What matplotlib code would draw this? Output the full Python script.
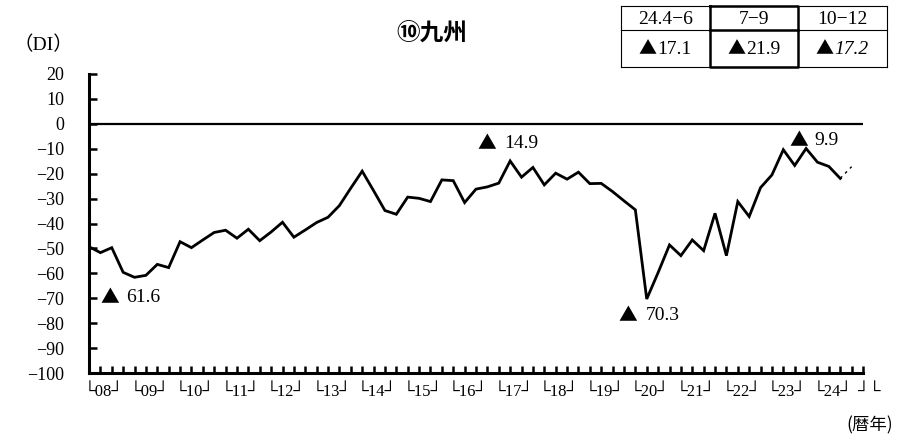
import matplotlib
matplotlib.use("Agg")
import matplotlib.pyplot as plt
import numpy as np

plt.rcParams["font.family"] = ["Liberation Serif", "DejaVu Sans", "Noto Sans CJK JP"]
plt.rcParams["axes.unicode_minus"] = True
TRI_FONT = "Noto Sans CJK JP"

# quarterly business conditions DI, Kyushu, 2008 Q1 .. 2024 Q3
YEARS = list(range(2008, 2025))
DI = [-49.3, -51.7, -49.7, -59.6, -61.6, -60.8, -56.4, -57.7, -47.3, -49.7,
      -46.6, -43.6, -42.7, -45.9, -42.3, -46.9, -43.4, -39.5, -45.5, -42.6,
      -39.6, -37.5, -32.8, -25.8, -19.0, -26.8, -34.8, -36.3, -29.4, -29.9,
      -31.2, -22.5, -22.8, -31.6, -26.2, -25.3, -23.8, -14.9, -21.4, -17.5,
      -24.5, -19.8, -22.2, -19.4, -24.0, -23.9, -27.2, -30.9, -34.5, -70.3,
      -59.7, -48.6, -52.9, -46.6, -50.9, -35.9, -52.9, -31.2, -37.2, -25.6,
      -20.5, -10.4, -16.7, -9.9, -15.4, -17.1, -21.9]
FORECAST = -17.2  # 2024 Q4 outlook

# labelled extremes: quarter index -> (triangle dx, number dx, dy) in pixels
PEAKS = {4: (-25, -8, -20), 37: (-23, -6, 17), 49: (-19, -1, -17), 63: (-7, 8, 8)}

TABLE_HEAD = ["24.4\u22126", "7\u22129", "10\u221212"]
TABLE_VALS = [-17.1, -21.9, -17.2]

W, H = 899, 438
fig = plt.figure(figsize=(W / 100, H / 100), dpi=100)
ax = fig.add_axes([89 / W, 1 - 373 / H, (863 - 89) / W, 299 / H])

x = np.arange(len(DI))
ax.plot(x, DI, color="black", lw=2.0, solid_joinstyle="miter", zorder=3)
ax.plot([x[-1], x[-1] + 1], [DI[-1], FORECAST], color="black", lw=1.0,
        ls=(0, (2, 3)), zorder=3)
ax.axhline(0, color="black", lw=1.6)

ax.set_xlim(0, 4 * len(YEARS))
ax.set_ylim(-100, 20)
ax.set_yticks(range(-100, 21, 10))
ax.set_xticks(range(4 * len(YEARS) + 1))
ax.set_xticklabels([])
ax.tick_params(axis="y", direction="in", length=6, width=1.8, pad=18, labelsize=13)
ax.tick_params(axis="x", direction="in", length=5, width=1.8)
for s in ("top", "right"):
    ax.spines[s].set_visible(False)
for s in ("left", "bottom"):
    ax.spines[s].set_linewidth(2.2)

# year brackets under the axis
xt = ax.get_xaxis_transform()
for k, yr in enumerate(YEARS):
    ax.text(4 * k + 1.3, -0.063, f"\u2514{yr % 100:02d}\u2518", transform=xt,
            ha="center", va="center", fontsize=12)
ax.text(4 * len(YEARS) + 0.5, -0.063, "\u2518\u2514", transform=xt,
        ha="center", va="center", fontsize=12, clip_on=False)

for i, (tdx, ndx, dy) in PEAKS.items():
    ax.annotate("\u25b2", xy=(i, DI[i]), xytext=(tdx, dy), textcoords="offset pixels",
                ha="center", va="center", fontsize=13.5, family=TRI_FONT)
    ax.annotate(f"{abs(DI[i]):.1f}", xy=(i, DI[i]), xytext=(ndx, dy),
                textcoords="offset pixels", ha="left", va="center", fontsize=14)

# overlay in pixel coordinates for the headings and the outlook table
ov = fig.add_axes([0, 0, 1, 1])
ov.set_xlim(0, W)
ov.set_ylim(H, 0)
ov.axis("off")

ov.text(432, 33, "\u2469九州", family="Noto Sans CJK JP", fontweight="bold",
        fontsize=17, ha="center", va="center")
ov.text(43, 45, "\uff08DI\uff09", fontsize=14, ha="center", va="center")
ov.text(893, 425, "(暦年)", family="Noto Sans CJK JP", fontsize=12.5,
        ha="right", va="center")

cols = [621, 710, 798, 887]
rows = [6, 30, 67]
for r in rows:
    ov.plot([cols[0], cols[-1]], [r, r], color="black", lw=0.8)
for c in (cols[0], cols[-1]):
    ov.plot([c, c], [rows[0], rows[2]], color="black", lw=0.8)
# highlighted current quarter
ov.plot([cols[1], cols[2], cols[2], cols[1], cols[1]],
        [rows[0], rows[0], rows[2], rows[2], rows[0]], color="black", lw=1.8)
ov.plot([cols[1], cols[2]], [rows[1]] * 2, color="black", lw=1.8)

for j, (head, val) in enumerate(zip(TABLE_HEAD, TABLE_VALS)):
    cx = (cols[j] + cols[j + 1]) / 2
    last = j == len(TABLE_VALS) - 1
    ov.text(cx, (rows[0] + rows[1]) / 2 + 1, head, fontsize=14, ha="center", va="center")
    ymid = (rows[1] + rows[2]) / 2 + 1
    ov.text(cx - 18, ymid, "\u25b2", family=TRI_FONT, fontsize=13,
            ha="center", va="center")
    ov.text(cx - 8, ymid, f"{abs(val):.1f}", fontsize=14, ha="left", va="center",
            style="italic" if last else "normal")

fig.savefig("out.png", dpi=100)
